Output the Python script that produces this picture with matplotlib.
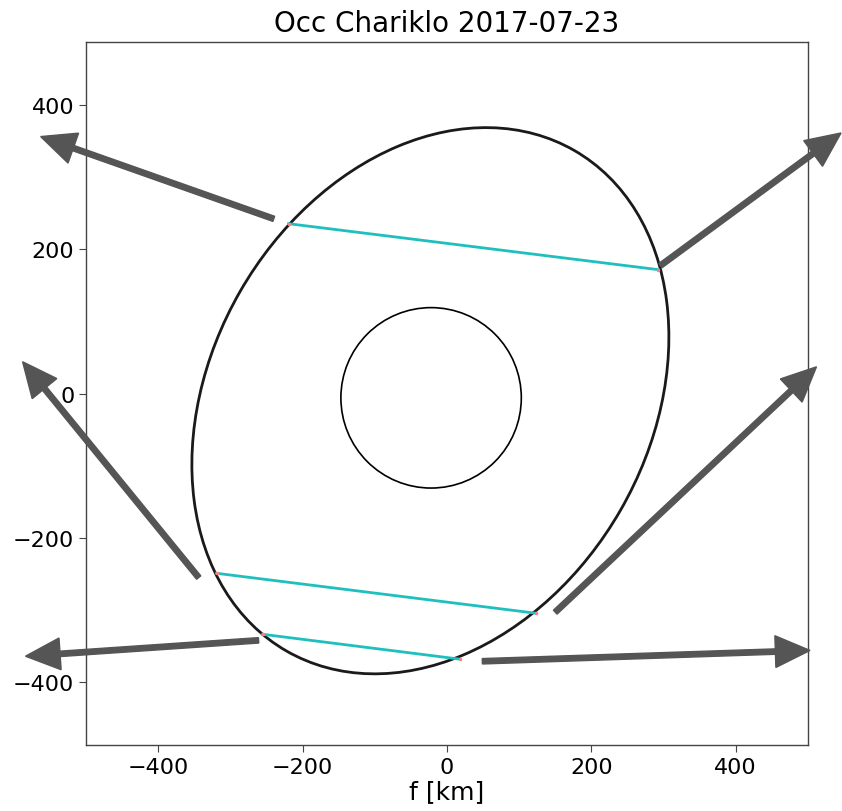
import matplotlib
matplotlib.use("Agg")
import matplotlib.pyplot as plt
from matplotlib.patches import Ellipse, Circle

# Ring ellipse (km, sky plane)
ring_center = (-23.0, -10.0)
ring_major = 400.0
ring_minor = 304.0
ring_angle = 60.1

# Body circle
body_center = (-22.0, -6.0)
body_radius = 125.0

# Occultation chords: (x_start, y_start, x_end, y_end)
chord_x0 = [-219.5, -319.3, -255.5]
chord_y0 = [235.3, -249.1, -333.6]
chord_x1 = [292.9, 123.7, 18.7]
chord_y1 = [171.6, -304.5, -368.2]

# Direction arrows: start and tip points
arrow_x0 = [-240.0, 295.7, -344.0, 150.0, -261.0, 49.0]
arrow_y0 = [242.0, 177.2, -255.0, -303.0, -342.0, -371.0]
arrow_x1 = [-563.0, 546.0, -588.0, 512.0, -584.0, 503.0]
arrow_y1 = [356.0, 361.0, 44.0, 37.0, -364.0, -356.0]

x_ticks = [-400, -200, 0, 200, 400]
y_ticks = [-400, -200, 0, 200, 400]

fig = plt.figure(figsize=(8.42, 8.12), dpi=100)
ax = fig.add_axes([0.1021, 0.0813, 0.8575, 0.8657])

ax.add_patch(Ellipse(ring_center, 2 * ring_major, 2 * ring_minor, angle=ring_angle,
                     fill=False, edgecolor="#1a1a1a", linewidth=2.0, zorder=2))
ax.add_patch(Circle(body_center, body_radius, fill=False, edgecolor="black",
                    linewidth=1.2, zorder=2))

for x0, y0, x1, y1 in zip(chord_x0, chord_y0, chord_x1, chord_y1):
    ax.plot([x0, x1], [y0, y1], color="#1fbfbf", linewidth=2.0, zorder=3)
    ax.plot([x0, x1], [y0, y1], linestyle="none", marker="o", markersize=1.5,
            color="#ff8080", zorder=4)

for x0, y0, x1, y1 in zip(arrow_x0, arrow_y0, arrow_x1, arrow_y1):
    ax.arrow(x0, y0, x1 - x0, y1 - y0, width=7.5, head_width=44, head_length=48,
             length_includes_head=True, color="#555555", clip_on=False, zorder=5)

ax.set_xlim(-500, 500)
ax.set_ylim(-487, 487)
ax.set_aspect("equal")
ax.set_xticks(x_ticks)
ax.set_yticks(y_ticks)
ax.tick_params(labelsize=16, length=5, color="#444444")
for s in ax.spines.values():
    s.set_color("#444444")
    s.set_linewidth(1.0)
ax.set_xlabel("f [km]", fontsize=18, labelpad=2)
ax.set_title("Occ Chariklo 2017-07-23", fontsize=20, pad=8)

fig.savefig("out.png", dpi=100)
